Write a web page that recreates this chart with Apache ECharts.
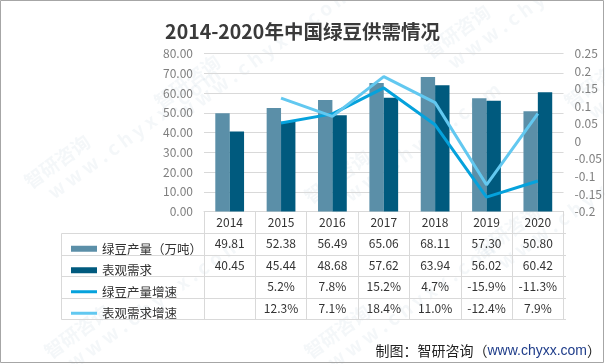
<!DOCTYPE html>
<html><head><meta charset="utf-8">
<script src="https://cdn.jsdelivr.net/npm/echarts@6/dist/echarts.min.js"></script>
<style>html,body{margin:0;padding:0;background:#fff}#c{width:605px;height:364px}</style>
</head><body><div id="c"></div>
<script>
// ---- data ----
var years = ['2014','2015','2016','2017','2018','2019','2020'];
var production = [49.81, 52.38, 56.49, 65.06, 68.11, 57.30, 50.80];
var demand = [40.45, 45.44, 48.68, 57.62, 63.94, 56.02, 60.42];
var prodGrowth = [null, 5.2, 7.8, 15.2, 4.7, -15.9, -11.3];   // %
var demandGrowth = [null, 12.3, 7.1, 18.4, 11.0, -12.4, 7.9]; // %
var seriesNames = ['绿豆产量（万吨）', '表观需求', '绿豆产量增速', '表观需求增速'];
var leftTicks = [0, 80, 10];
var rightTicks = [-20, 25, 5]; // percent units, labelled as fractions

var FONT = '"Noto Sans CJK SC", "Noto Sans", sans-serif';
var C_BAR1 = '#5b8fa8', C_BAR2 = '#005a7e', C_L1 = '#05a2dc', C_L2 = '#62c8f0';
var GRID = {left: 204, right: 39, top: 53.5, bottom: 152.5};
var ROW = 21.5;
var GRAY = '#d9d9d9';

function fmtPct(v){ return v == null ? '' : v.toFixed(1) + '%'; }

var chart = echarts.init(document.getElementById('c'), null, {renderer: 'canvas'});

var gridBottomY = 364 - GRID.bottom;
var tableLeft = 61.5, tableRight = 605 - GRID.right;
var graphics = [];
// table horizontal lines
for (var r = 1; r <= 5; r++) {
  var y = Math.round(gridBottomY + ROW * r) + 0.5;
  graphics.push({type:'line', shape:{x1: tableLeft, y1: y, x2: tableRight, y2: y}, style:{stroke: GRAY, lineWidth: 1}, silent:true});
}
graphics.push({type:'line', shape:{x1: tableLeft, y1: Math.round(gridBottomY + ROW) + 0.5, x2: tableLeft, y2: Math.round(gridBottomY + ROW*5) + 0.5}, style:{stroke: GRAY, lineWidth:1}, silent:true});
// border
graphics.push({type:'rect', shape:{x:0.5, y:0.5, width:603, height:362}, style:{fill:'none', stroke:'#a6a6a6', lineWidth:1}, silent:true});
// footer
graphics.push({type:'text', right: 4, top: 344, style:{
  text: '{a|制图：智研咨询（}{b|www.chyxx.com}{a|）}',
  rich: {a:{fontSize:14, fill:'#222', fontFamily: FONT}, b:{fontSize:14, fill:'#1f3d8a', fontFamily:'"Liberation Sans", Arial, sans-serif'}}
}, silent:true});
// faint watermarks
var wm = [[150,95],[420,45],[300,190],[560,95],[20,175],[300,345],[40,345],[470,245]];
wm.forEach(function(p){
  graphics.push({type:'text', x:p[0], y:p[1], rotation: Math.PI*0.2, z: -10, silent:true,
    style:{text:'智研咨询\n   w w w . c h y x x . c o m', fill:'rgba(150,175,200,0.10)', fontSize:19, fontWeight:'bold', fontFamily: FONT, lineHeight: 22}});
});

var option = {
  animation: false,
  backgroundColor: '#fff',
  title: {text: '2014-2020年中国绿豆供需情况', left: 'center', top: 17,
    textStyle: {fontSize: 19.5, fontWeight: 'bold', color: '#3a3a3a', fontFamily: FONT}},
  grid: GRID,
  legend: {
    orient: 'vertical', left: 66, top: gridBottomY + ROW, itemGap: 0, itemWidth: 26, itemHeight: 6,
    selectedMode: false,
    textStyle: {fontSize: 12.5, lineHeight: ROW, color: '#333', fontFamily: FONT, padding:[0,0,0,0]},
    data: [
      {name: seriesNames[0], icon: 'rect'},
      {name: seriesNames[1], icon: 'rect'},
      {name: seriesNames[2], icon: 'path://M0,0H26V3H0Z'},
      {name: seriesNames[3], icon: 'path://M0,0H26V3H0Z'}
    ]
  },
  xAxis: {
    type: 'category', data: years, boundaryGap: true,
    axisLine: {show: true, lineStyle: {color: GRAY, width: 1}},
    axisTick: {show: true, interval: 0, length: ROW * 5 + 0.5, lineStyle: {color: GRAY}},
    axisLabel: {
      interval: 0, margin: 0, fontSize: 12, lineHeight: ROW, color: '#333', fontFamily: FONT,
      formatter: function (v, i) {
        return [years[i], production[i].toFixed(2), demand[i].toFixed(2), fmtPct(prodGrowth[i]), fmtPct(demandGrowth[i])].join('\n');
      }
    }
  },
  yAxis: [
    {type: 'value', min: leftTicks[0], max: leftTicks[1], interval: leftTicks[2],
     axisLine: {show: false}, axisTick: {show: false},
     splitLine: {lineStyle: {color: GRAY}},
     axisLabel: {margin: 11, fontSize: 12, color: '#7f7f7f', fontFamily: FONT, formatter: function(v){return v.toFixed(2);}}},
    {type: 'value', min: rightTicks[0], max: rightTicks[1], interval: rightTicks[2], position: 'right',
     axisLine: {show: false}, axisTick: {show: false}, splitLine: {show: false},
     axisLabel: {margin: 11, fontSize: 12, color: '#7f7f7f', fontFamily: FONT,
       formatter: function(v){ return String(+(v/100).toFixed(2)); }}}
  ],
  series: [
    {name: seriesNames[0], type: 'bar', data: production, barWidth: '28%', barGap: '0%', itemStyle: {color: C_BAR1}, yAxisIndex: 0},
    {name: seriesNames[1], type: 'bar', data: demand, barWidth: '28%', barGap: '0%', itemStyle: {color: C_BAR2}, yAxisIndex: 0},
    {name: seriesNames[2], type: 'line', data: prodGrowth, yAxisIndex: 1, symbol: 'none', lineStyle: {color: C_L1, width: 3}, itemStyle:{color:C_L1}},
    {name: seriesNames[3], type: 'line', data: demandGrowth, yAxisIndex: 1, symbol: 'none', lineStyle: {color: C_L2, width: 3}, itemStyle:{color:C_L2}}
  ],
  graphic: graphics
};
chart.setOption(option);
</script>
</body></html>
